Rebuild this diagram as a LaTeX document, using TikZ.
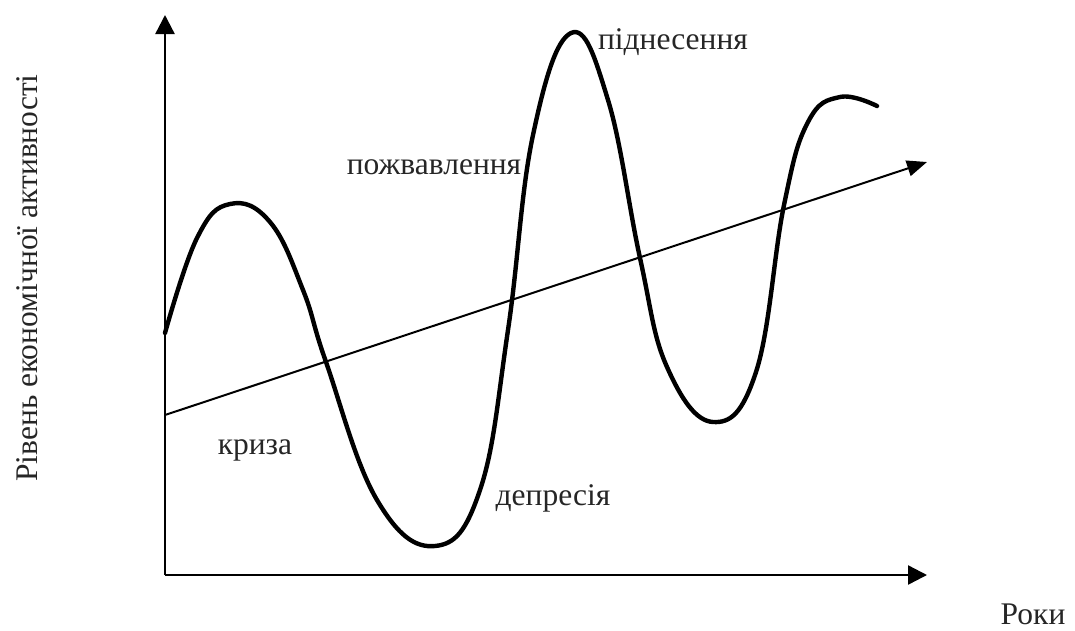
\documentclass[tikz,border=0pt]{standalone}
\usepackage{fontspec}
\setmainfont{Liberation Serif}
\usetikzlibrary{positioning,arrows.meta}
\tikzset{
  axis/.style={line width=2.4pt,-{Triangle[length=19pt,width=19pt]}},
  trend/.style={line width=2pt,-{Triangle[length=20pt,width=16pt]}},
  wave/.style={line width=4.4pt,line cap=round,line join=round},
  lbl/.style={inner sep=0pt,text=black!85,font=\fontsize{31.5}{34}\selectfont},
}
\begin{document}
\begin{tikzpicture}[x=1pt,y=-1pt]
  \useasboundingbox (0,0) rectangle (1075,630);
  % axes
  \coordinate (origin) at (165,575);
  \coordinate (ytop) at (165,15);
  \coordinate (xend) at (927,575);
  \draw[axis] (origin) -- (ytop);
  \draw[axis] (origin) -- (xend);
  % trend
  \coordinate (tstart) at (165,415);
  \coordinate (tend) at (927,162);
  \draw[trend] (tstart) -- (tend);
  % business cycle
  \draw[wave] plot[smooth,tension=0.7] coordinates {
    (165,333) (197,238) (230,204) (270,222) (303,290) (326,362) (377,500) (435,546)
    (480,490) (508,330) (533,135) (571,33) (608,100) (640,258) (667,367)
    (713,422) (756,372) (784,205) (808,122) (840,97) (877,106)};
  % labels
  \node[lbl] (kryza) at (255,450) {криза};
  \node[lbl] (depresia) at (553,498) {депресія};
  \node[lbl] (pozhvav) at (434,167) {пожвавлення};
  \node[lbl] (pidnes) at (673,42) {піднесення};
  \node[lbl] (roky) at (1033,614) {Роки};
  \node[lbl,rotate=90] (riven) at (27,278) {Рівень економічної активності};
\end{tikzpicture}
\end{document}
